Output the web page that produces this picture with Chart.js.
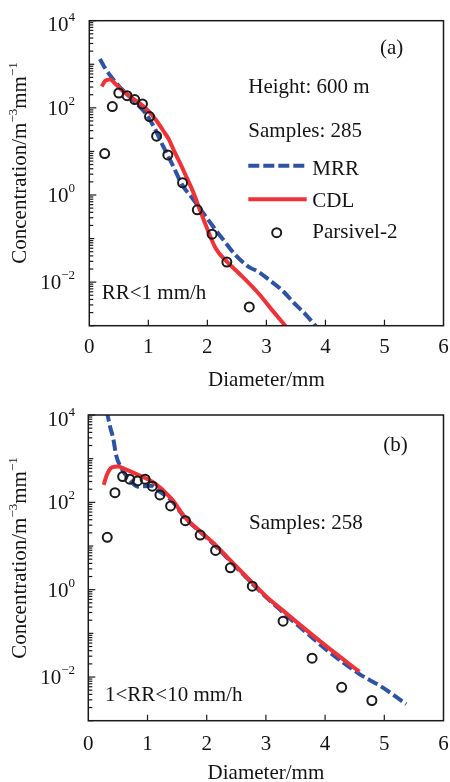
<!DOCTYPE html>
<html lang="pt-br">
<head>
<meta charset="UTF-8">
<title>DSD - MRR x CDL x Parsivel-2</title>
<script src="https://cdn.jsdelivr.net/npm/chart.js"></script>
<style>
    body { margin: 0; background: #ffffff; }
    .painel { position: absolute; left: 0; width: 450px; height: 391px; }
</style>
</head>
<body>

<div class="painel" style="top: 0px;"><canvas id="graficoA"></canvas></div>
<div class="painel" style="top: 391px;"><canvas id="graficoB"></canvas></div>

<script>
// ---- (a) RR<1 mm/h, 600 m, 285 amostras ----
var diamParsivelA = [0.26, 0.39, 0.50, 0.64, 0.77, 0.90, 1.02, 1.14, 1.33, 1.58, 1.83, 2.08, 2.33, 2.71];
var concParsivelA = [8.9, 107, 219, 190, 155, 123, 63, 22.4, 8.3, 1.9, 0.457, 0.126, 0.0288, 0.0027];

var diamCdlA = [0.21, 0.27, 0.35, 0.45, 0.57, 0.70, 0.85, 1.00, 1.13, 1.25, 1.35, 1.43, 1.55, 1.65, 1.75, 1.91, 2.14, 2.33, 2.53, 2.86, 3.09, 3.35];
var concCdlA = [309, 417, 447, 347, 240, 178, 129, 85, 52.5, 30.2, 18.6, 10.7, 5.0, 2.5, 1.26, 0.339, 0.060, 0.0295, 0.0162, 0.00562, 0.00234, 0.00089];

var diamMrrA = [0.18, 0.25, 0.35, 0.50, 0.65, 0.80, 0.95, 1.10, 1.25, 1.40, 1.58, 1.75, 1.90, 2.14, 2.30, 2.47, 2.70, 2.86, 3.05, 3.26, 3.50, 3.67, 3.85];
var concMrrA = [1318, 891, 562, 316, 200, 126, 76, 35.5, 13.2, 5.25, 1.66, 0.83, 0.437, 0.158, 0.083, 0.0427, 0.0224, 0.0174, 0.0112, 0.0066, 0.0030, 0.00178, 0.00093];

// ---- (b) 1<RR<10 mm/h, 258 amostras ----
var diamParsivelB = [0.32, 0.45, 0.58, 0.70, 0.83, 0.96, 1.08, 1.21, 1.39, 1.64, 1.89, 2.15, 2.40, 2.77, 3.29, 3.78, 4.28, 4.79];
var concParsivelB = [15.8, 166, 389, 339, 309, 339, 234, 148, 83, 38, 17.8, 7.9, 3.16, 1.20, 0.19, 0.027, 0.0058, 0.0029];

var diamCdlB = [0.26, 0.32, 0.40, 0.50, 0.62, 0.84, 1.12, 1.40, 1.64, 1.91, 2.15, 2.45, 2.77, 3.01, 3.29, 3.68, 4.10, 4.58];
var concCdlB = [251, 447, 631, 661, 575, 427, 275, 123, 44.7, 20.4, 10.5, 3.98, 1.45, 0.69, 0.331, 0.120, 0.0417, 0.0132];

var diamMrrB = [0.31, 0.37, 0.42, 0.47, 0.56, 0.70, 0.84, 0.95, 1.08, 1.20, 1.40, 1.64, 1.91, 2.15, 2.45, 2.77, 3.01, 3.29, 3.68, 4.00, 4.58, 4.95, 5.37];
var concMrrB = [12590, 5250, 2951, 1202, 603, 324, 229, 234, 240, 178, 112, 42.7, 20.0, 10.0, 3.80, 1.38, 0.66, 0.302, 0.105, 0.0447, 0.0117, 0.00603, 0.0024];

// eixo y: rótulos 10^n
var expoentesY = [4, 2, 0, -2];

var fonte = "'Liberation Serif', 'Times New Roman', serif";
var corTexto = '#141414';
var corMRR = '#2f53a3';
var corCDL = '#ee3237';
var corEixo = '#1a1a1a';

function pontos(xs, ys) {
    return xs.map(function (x, i) { return { x: x, y: ys[i] }; });
}

function montarDatasets(dP, cP, dC, cC, dM, cM) {
    return [
        { label: 'Parsivel-2', data: pontos(dP, cP), showLine: false, pointRadius: 4.5, pointBorderWidth: 2,
          pointBorderColor: '#1b1b1b', pointBackgroundColor: 'rgba(0,0,0,0)' },
        { label: 'CDL', data: pontos(dC, cC), borderColor: corCDL, borderWidth: 4, pointRadius: 0,
          cubicInterpolationMode: 'monotone', clip: 0 },
        { label: 'MRR', data: pontos(dM, cM), borderColor: corMRR, borderWidth: 4, borderDash: [11, 4], pointRadius: 0,
          cubicInterpolationMode: 'monotone', clip: 0 }
    ];
}

// texto com expoentes (partes: {t, sup})
function larguraRica(ctx, partes, tam, tamSup) {
    var w = 0;
    partes.forEach(function (p) {
        ctx.font = (p.sup ? tamSup : tam) + 'px ' + fonte;
        w += ctx.measureText(p.t).width;
    });
    return w;
}

function desenharRico(ctx, partes, x, y, tam, tamSup, sobe) {
    partes.forEach(function (p) {
        ctx.font = (p.sup ? tamSup : tam) + 'px ' + fonte;
        ctx.fillText(p.t, x, p.sup ? y - sobe : y);
        x += ctx.measureText(p.t).width;
    });
}

var decoracao = {
    id: 'decoracao',
    afterDraw: function (chart, args, cfg) {
        var ctx = chart.ctx;
        var area = chart.chartArea;
        var sx = chart.scales.x;
        var sy = chart.scales.y;

        ctx.save();
        ctx.strokeStyle = corEixo;
        ctx.fillStyle = corTexto;
        ctx.lineWidth = 1.5;

        // moldura
        ctx.strokeRect(area.left, area.top, area.right - area.left, area.bottom - area.top);

        // ticks do eixo y (para dentro)
        ctx.lineWidth = 1.2;
        for (var p = -3; p <= 4; p++) {
            for (var m = 1; m <= 9; m++) {
                var v = m * Math.pow(10, p);
                if (v > 1e4) break;
                var py = sy.getPixelForValue(v);
                var comp = m === 1 ? (p % 2 === 0 ? 7 : 5) : 4;
                ctx.beginPath();
                ctx.moveTo(area.left, py);
                ctx.lineTo(area.left + comp, py);
                ctx.stroke();
            }
        }

        // ticks do eixo x (para dentro)
        for (var d = 1; d <= 5; d++) {
            var px = sx.getPixelForValue(d);
            ctx.beginPath();
            ctx.moveTo(px, area.bottom);
            ctx.lineTo(px, area.bottom - 6);
            ctx.stroke();
        }

        // rótulos 10^n
        ctx.textAlign = 'left';
        ctx.textBaseline = 'alphabetic';
        expoentesY.forEach(function (e) {
            var py = sy.getPixelForValue(Math.pow(10, e));
            if (py < area.top + 2) py += 3.5;
            var partes = [{ t: '10' }, { t: e < 0 ? '\u2212' + (-e) : String(e), sup: true }];
            var w = larguraRica(ctx, partes, 21, 13);
            desenharRico(ctx, partes, 75 - w, py + 7, 21, 13, 10);
        });

        // título do eixo y
        var tituloY = [{ t: 'Concentration/m' }, { t: '\u22123', sup: true }, { t: 'mm' }, { t: '\u22121', sup: true }];
        var wt = larguraRica(ctx, tituloY, 21, 13);
        ctx.save();
        ctx.translate(26, cfg.centroTituloY);
        ctx.rotate(-Math.PI / 2);
        desenharRico(ctx, tituloY, -wt / 2, 0, 21, 13, 9);
        ctx.restore();

        // anotações
        ctx.font = '21px ' + fonte;
        cfg.textos.forEach(function (tx) {
            ctx.fillText(tx.t, tx.x, tx.y);
        });

        // legenda
        if (cfg.legenda) {
            var ds = chart.data.datasets;
            ctx.lineWidth = ds[2].borderWidth;
            ctx.strokeStyle = ds[2].borderColor;
            ctx.setLineDash(ds[2].borderDash);
            ctx.beginPath();
            ctx.moveTo(248.3, 165.7);
            ctx.lineTo(305, 165.7);
            ctx.stroke();
            ctx.setLineDash([]);
            ctx.strokeStyle = ds[1].borderColor;
            ctx.lineWidth = ds[1].borderWidth;
            ctx.beginPath();
            ctx.moveTo(248.3, 199.3);
            ctx.lineTo(306.7, 199.3);
            ctx.stroke();
            ctx.strokeStyle = ds[0].pointBorderColor;
            ctx.lineWidth = ds[0].pointBorderWidth;
            ctx.beginPath();
            ctx.arc(276.7, 232.7, ds[0].pointRadius, 0, Math.PI * 2);
            ctx.stroke();
            ctx.fillStyle = corTexto;
            ctx.fillText('MRR', 312.3, 175);
            ctx.fillText('CDL', 312.3, 206.7);
            ctx.fillText('Parsivel-2', 312.3, 237.7);
        }
        ctx.restore();
    }
};

function opcoes(cfg) {
    return {
        responsive: true,
        maintainAspectRatio: false,
        animation: false,
        devicePixelRatio: 1,
        events: [],
        layout: { padding: { left: 0, top: cfg.topo, right: cfg.direita, bottom: 0 } },
        plugins: {
            legend: { display: false },
            tooltip: { enabled: false },
            decoracao: cfg
        },
        scales: {
            x: {
                type: 'linear', min: 0, max: 6,
                grid: { display: false, drawTicks: false },
                border: { display: false },
                ticks: { stepSize: 1, padding: cfg.padTick, maxRotation: 0, autoSkip: false, color: corTexto,
                         font: { family: fonte, size: 21 } },
                title: { display: true, text: 'Diameter/mm', color: corTexto, padding: 0,
                         font: { family: fonte, size: 21, lineHeight: cfg.alturaTitulo } },
                afterFit: function (s) {
                    s.height = cfg.alturaX;
                    s.paddingLeft = 0;
                    s.paddingRight = 0;
                }
            },
            y: {
                type: 'logarithmic', min: 1e-3, max: 1e4,
                grid: { display: false, drawTicks: false },
                border: { display: false },
                ticks: { display: false },
                afterFit: function (s) {
                    s.width = cfg.larguraY;
                    s.paddingTop = 0;
                    s.paddingBottom = 0;
                }
            }
        }
    };
}

var graficoA = new Chart(document.getElementById('graficoA'), {
    type: 'line',
    data: { datasets: montarDatasets(diamParsivelA, concParsivelA, diamCdlA, concCdlA, diamMrrA, concMrrA) },
    options: opcoes({
        topo: 20.7, direita: 4.3, larguraY: 89.3, alturaX: 65.3, padTick: 9.2, alturaTitulo: '22px',
        centroTituloY: 163, legenda: true,
        textos: [
            { t: '(a)', x: 380, y: 54 },
            { t: 'Height: 600 m', x: 248.3, y: 93.3 },
            { t: 'Samples: 285', x: 248.3, y: 136.5 },
            { t: 'RR<1 mm/h', x: 101.7, y: 299.3 }
        ]
    }),
    plugins: [decoracao]
});

var graficoB = new Chart(document.getElementById('graficoB'), {
    type: 'line',
    data: { datasets: montarDatasets(diamParsivelB, concParsivelB, diamCdlB, concCdlB, diamMrrB, concMrrB) },
    options: opcoes({
        topo: 24, direita: 5.7, larguraY: 88.3, alturaX: 61.3, padTick: 10.7, alturaTitulo: '18px',
        centroTituloY: 167, legenda: false,
        textos: [
            { t: '(b)', x: 383.3, y: 60 },
            { t: 'Samples: 258', x: 249, y: 138.3 },
            { t: '1<RR<10 mm/h', x: 105, y: 309.7 }
        ]
    }),
    plugins: [decoracao]
});
</script>
</body>
</html>
